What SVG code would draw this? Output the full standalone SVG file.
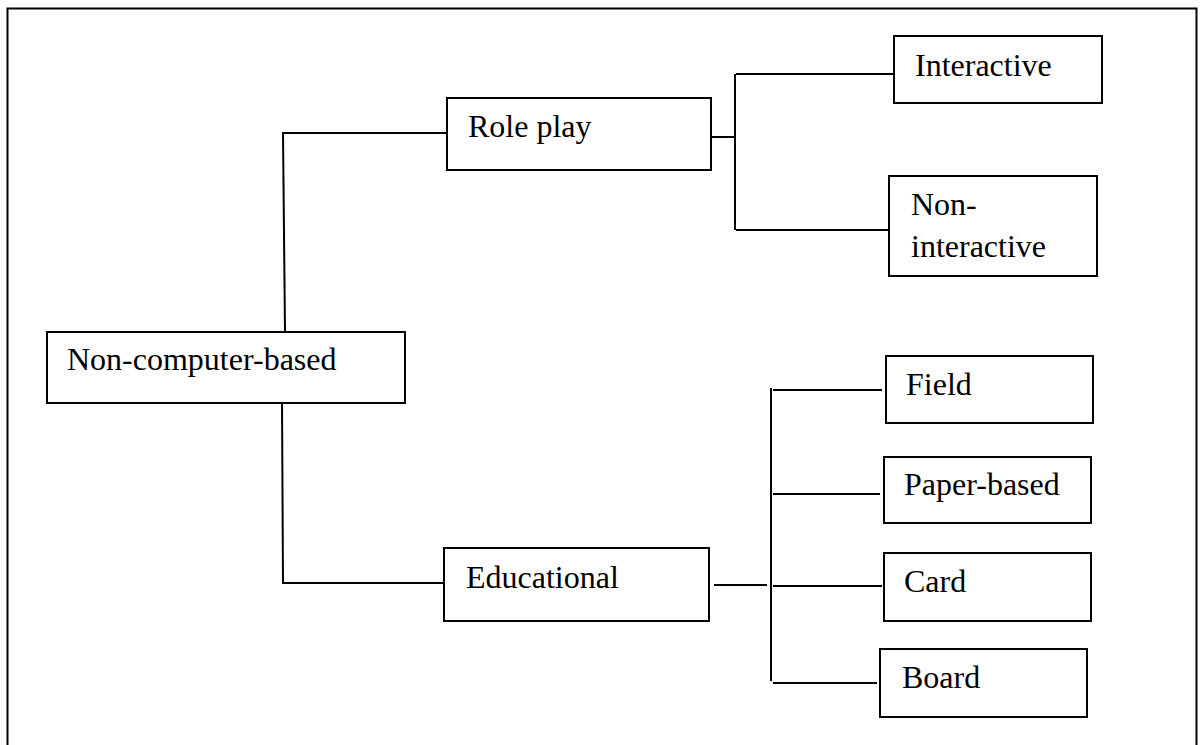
<svg xmlns="http://www.w3.org/2000/svg" width="1201" height="745" viewBox="0 0 1201 745">
<style>
.box{fill:#fff;stroke:#000;stroke-width:2}
.ln{fill:none;stroke:#000;stroke-width:2}
.t{font-family:"Liberation Serif","Times New Roman",serif;font-size:32px;fill:#000}
</style>
<rect width="1201" height="745" fill="#fff"/>
<path class="ln" d="M7.5,745 V8.5 H1196.5 V745" stroke-width="2.2"/>
<g id="connectors">
<path class="ln" d="M285,332 L283,133 H447"/>
<path class="ln" d="M282,403 L283,583 H444"/>
<path class="ln" d="M711,137 H735"/>
<path class="ln" d="M735,74 V230"/>
<path class="ln" d="M736,74 H894"/>
<path class="ln" d="M736,230 H889"/>
<path class="ln" d="M714,585 H767"/>
<path class="ln" d="M771,388 V681"/>
<path class="ln" d="M773,390 H882"/>
<path class="ln" d="M773,494 H880"/>
<path class="ln" d="M773,586 H882"/>
<path class="ln" d="M773,683 H877"/>
</g>
<g id="n-noncomputer"><rect class="box" x="47" y="332" width="358" height="71"/><text class="t" x="67" y="370">Non-computer-based</text></g>
<g id="n-roleplay"><rect class="box" x="447" y="98" width="264" height="72"/><text class="t" x="468" y="137">Role play</text></g>
<g id="n-educational"><rect class="box" x="444" y="548" width="265" height="73"/><text class="t" x="466" y="588">Educational</text></g>
<g id="n-interactive"><rect class="box" x="894" y="36" width="208" height="67"/><text class="t" x="915" y="76">Interactive</text></g>
<g id="n-noninteractive"><rect class="box" x="889" y="176" width="208" height="100"/><text class="t" x="911" y="215">Non-</text><text class="t" x="911" y="257">interactive</text></g>
<g id="n-field"><rect class="box" x="886" y="356" width="207" height="67"/><text class="t" x="906" y="395">Field</text></g>
<g id="n-paper"><rect class="box" x="884" y="457" width="207" height="66"/><text class="t" x="904" y="495">Paper-based</text></g>
<g id="n-card"><rect class="box" x="884" y="553" width="207" height="68"/><text class="t" x="904" y="592">Card</text></g>
<g id="n-board"><rect class="box" x="880" y="649" width="207" height="68"/><text class="t" x="902" y="688">Board</text></g>
</svg>
